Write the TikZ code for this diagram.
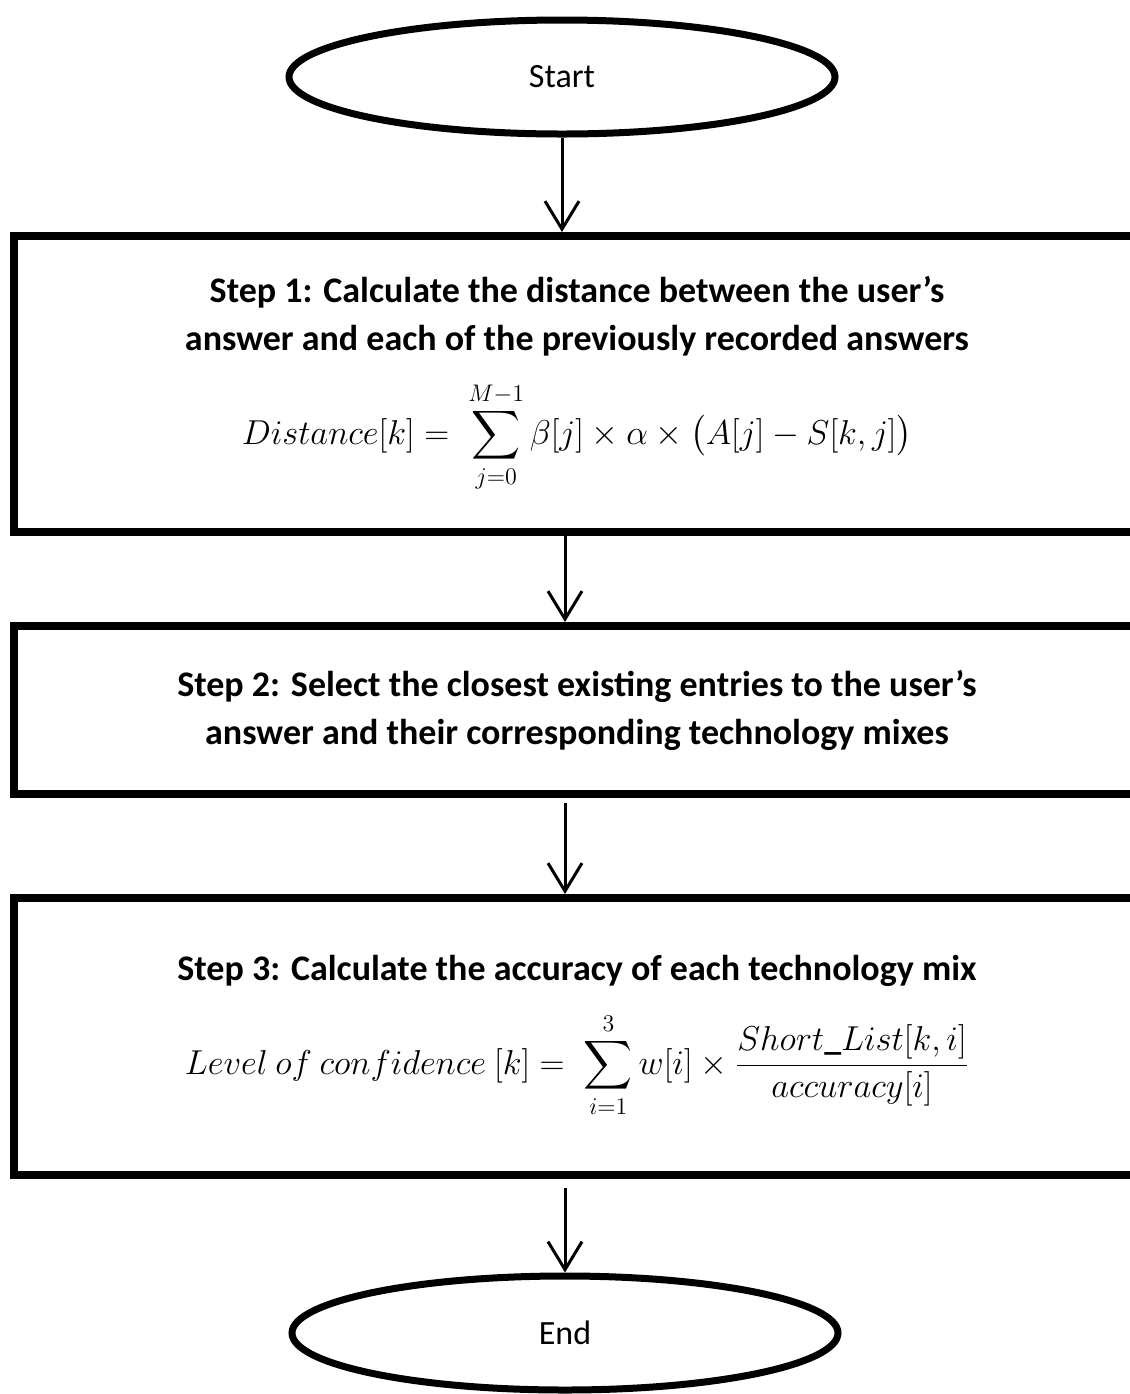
\documentclass[tikz,border=0pt]{standalone}
\usepackage{amsmath,amssymb}
\usepackage{fontspec}
\setmainfont{Carlito}
\usetikzlibrary{shapes.geometric,arrows.meta,positioning}

\newcommand{\mathsz}{\fontsize{17}{20}\selectfont}

\tikzset{
  term/.style={draw, ellipse, line width=3.5pt, minimum width=273pt, minimum height=57pt,
    inner sep=0pt, font=\fontsize{17}{20}\selectfont},
  stepbox/.style={draw, rectangle, line width=4pt, minimum width=563pt, inner sep=0pt,
    align=center, font=\bfseries\fontsize{18}{24}\selectfont},
  flow/.style={line width=1.5pt, -{Straight Barb[length=14pt,width=17pt]}}
}

\begin{document}
\begin{tikzpicture}[x=0.5pt,y=-0.5pt]
\useasboundingbox (0,0) rectangle (1130,1394);
\clip (0,0) rectangle (1130,1394);

% terminals
\node[term] (start) at (562,77) {Start};
\node[term] (end) at (565,1333) {End};

% steps
\node[stepbox, minimum height=148pt] (step1) at (577,384)
  {Step 1: Calculate the distance between the user’s\\
   answer and each of the previously recorded answers\\[12pt]
   {\mathsz $\displaystyle Distance[k] =\; \sum_{j=0}^{M-1} \beta[j]\times\alpha\times\bigl(A[j]-S[k,j]\bigr)$}};
\node[stepbox, minimum height=84pt] (step2) at (577,710)
  {Step 2: Select the closest existing entries to the user’s\\
   answer and their corresponding technology mixes};
\node[stepbox, minimum height=138.5pt] (step3) at (577,1036.5)
  {Step 3: Calculate the accuracy of each technology mix\\[12pt]
   {\mathsz $\displaystyle Level\ of\ confidence\ [k] =\; \sum_{i=1}^{3} w[i]\times\frac{Short\_List[k,i]}{accuracy[i]}$}};

% connectors
\draw[flow] (start.south) -- (start.south |- step1.north);
\draw[flow] (step1.south -| end) -- (step2.north -| end);
\draw[flow, shorten <=2.5pt] (step2.south -| end) -- (step3.north -| end);
\draw[flow, shorten <=4.5pt] (step3.south -| end) -- (end.north);

\end{tikzpicture}
\end{document}
